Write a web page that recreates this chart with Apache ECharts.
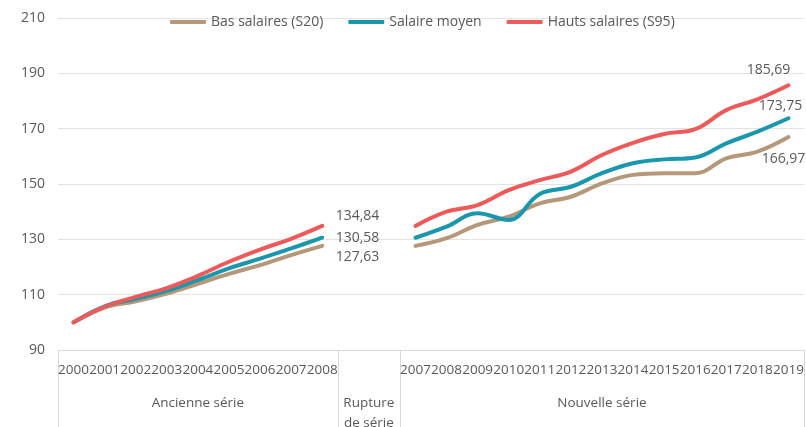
<!DOCTYPE html>
<html>
<head>
<meta charset="utf-8">
<script src="https://cdn.jsdelivr.net/npm/echarts@6/dist/echarts.min.js"></script>
<style>
  html, body { margin: 0; padding: 0; background: #fff; }
  #chart { width: 806px; height: 427px; }
</style>
</head>
<body>
<div id="chart"></div>
<script>
// categories: old series, 2 blank slots for the break, new series
const yearsOld = ["2000", "2001", "2002", "2003", "2004", "2005", "2006", "2007", "2008"];
const yearsNew = ["2007", "2008", "2009", "2010", "2011", "2012", "2013", "2014", "2015", "2016", "2017", "2018", "2019"];
const gapSlots = ["", " "];

const basOld = [100, 105.3, 107.6, 110.4, 113.9, 117.5, 120.7, 124.3, 127.63];
const moyOld = [100, 105.8, 108.5, 111.4, 115.3, 119.5, 123, 126.7, 130.58];
const hautOld = [100, 105.6, 109.2, 112.4, 116.8, 121.9, 126.3, 130.2, 134.84];

const basNew = [127.63, 130.4, 135.2, 138.2, 143, 145.4, 150.2, 153.3, 153.9, 153.9, 159.3, 161.7, 166.97];
const moyNew = [130.58, 134.6, 139.4, 137, 146.4, 149, 153.9, 157.5, 158.9, 159.6, 164.7, 168.9, 173.75];
const hautNew = [134.84, 140, 142.4, 147.8, 151.4, 154.5, 160.5, 164.9, 168.1, 169.8, 176.7, 180.6, 185.69];

// group labels under the years (position in category units)
const groupNames = { 4.5: "Ancienne série", 10: "Rupture\nde série", 17.5: "Nouvelle série" };
const groupBorders = [0, 9, 11, 24];

const TEXT = "#595959";
const GRID = "#e3e3e3";
const fmt = v => v.toFixed(2).replace(".", ",");

// join old + gap + new, put value labels on the two end points
function buildData(oldVals, newVals, oldLabel, newLabel) {
  const out = oldVals.map(v => v);
  gapSlots.forEach(() => out.push(null));
  newVals.forEach(v => out.push(v));
  const iOld = oldVals.length - 1;
  const iNew = out.length - 1;
  out[iOld] = { value: out[iOld], label: Object.assign({ show: true, formatter: p => fmt(p.value) }, oldLabel) };
  out[iNew] = { value: out[iNew], label: Object.assign({ show: true, formatter: p => fmt(p.value) }, newLabel) };
  return out;
}

const chart = echarts.init(document.getElementById("chart"));

const labelStyle = { show: false, color: TEXT, fontSize: 14, fontFamily: "Open Sans" };

function line(name, color, data) {
  return {
    name: name,
    type: "line",
    data: data,
    smooth: 0.4,
    showSymbol: true,
    symbol: "circle",
    symbolSize: 1, // tiny, only so the end labels get drawn
    connectNulls: false,
    lineStyle: { color: color, width: 4, cap: "round" },
    itemStyle: { color: color },
    label: labelStyle,
    z: 3
  };
}

const option = {
  animation: false,
  textStyle: { fontFamily: "Open Sans" },
  grid: { left: 58, right: 2, top: 18, bottom: 77, containLabel: false, outerBoundsMode: "none" },
  legend: {
    left: 170,
    top: 15,
    padding: 0,
    itemWidth: 36,
    itemHeight: 4,
    itemGap: 25,
    icon: "roundRect",
    textStyle: { color: TEXT, fontSize: 14, fontFamily: "Open Sans" },
    data: ["Bas salaires (S20)", "Salaire moyen", "Hauts salaires (S95)"]
  },
  xAxis: [
    {
      type: "category",
      data: yearsOld.concat(gapSlots, yearsNew),
      boundaryGap: true,
      axisLine: { show: true, lineStyle: { color: "#d9d9d9", width: 1 } },
      axisTick: { show: false },
      splitLine: { show: false },
      axisLabel: {
        interval: 0,
        color: TEXT,
        fontSize: 13.5,
        lineHeight: 16,
        margin: 12,
        fontFamily: "Open Sans"
      }
    },
    {
      type: "value",
      min: 0,
      max: 24,
      position: "bottom",
      axisLine: { show: false },
      splitLine: { show: false },
      axisTick: {
        show: true,
        customValues: groupBorders,
        length: 77,
        lineStyle: { color: "#d9d9d9", width: 1 }
      },
      axisLabel: {
        customValues: [4.5, 10, 17.5],
        formatter: v => groupNames[v] || "",
        color: TEXT,
        fontSize: 13.5,
        lineHeight: 20,
        margin: 43,
        verticalAlign: "top",
        fontFamily: "Open Sans"
      }
    }
  ],
  yAxis: {
    type: "value",
    min: 90,
    max: 210,
    interval: 20,
    axisLine: { show: false },
    axisTick: { show: false },
    splitLine: { lineStyle: { color: GRID, width: 1 } },
    axisLabel: { color: TEXT, fontSize: 14, margin: 13, fontFamily: "Open Sans" }
  },
  series: [
    line("Bas salaires (S20)", "#b5987a",
      buildData(basOld, basNew,
        { position: "right", distance: 13, offset: [0, 11] },
        { position: "bottom", distance: 5, offset: [-5, 9] })),
    line("Salaire moyen", "#1b97ad",
      buildData(moyOld, moyNew,
        { position: "right", distance: 13, offset: [0, 0] },
        { position: "top", distance: 5, offset: [-8, 0] })),
    line("Hauts salaires (S95)", "#ee5a5a",
      buildData(hautOld, hautNew,
        { position: "right", distance: 13, offset: [0, -10] },
        { position: "top", distance: 5, offset: [-20, -3] }))
  ]
};

chart.setOption(option);
</script>
</body>
</html>
